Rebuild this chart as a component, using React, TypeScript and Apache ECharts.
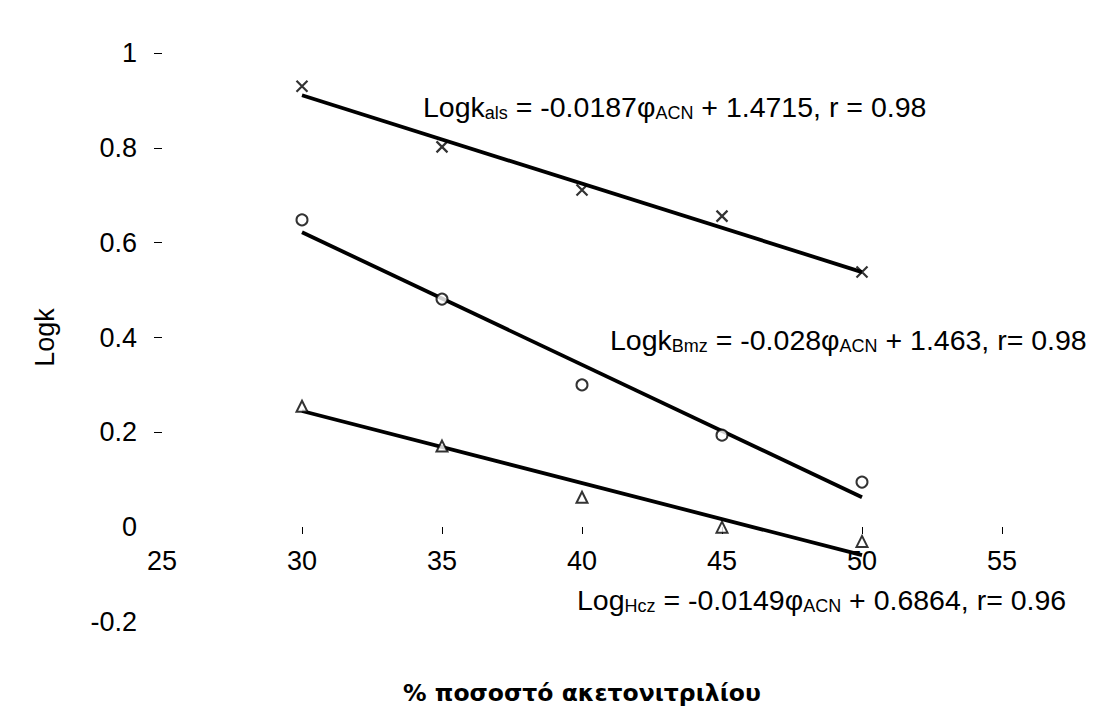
import React, { useEffect, useRef } from "react";
import * as echarts from "echarts";

const xValues = [30, 35, 40, 45, 50];
const alsValues = [0.93, 0.802, 0.711, 0.656, 0.538];
const bmzValues = [0.648, 0.481, 0.3, 0.194, 0.095];
const hczValues = [0.255, 0.171, 0.063, 0.0, -0.03];

const fitX = [30, 50];
const alsFit = [0.911, 0.538];
const bmzFit = [0.622, 0.063];
const hczFit = [0.245, -0.059];

const xTickValues = [30, 35, 40, 45, 50, 55];
const yTickValues = [0.2, 0.4, 0.6, 0.8, 1];

const FONT = "'Liberation Sans', Arial, sans-serif";

const pairs = (xs: number[], ys: number[]) => xs.map((x, i) => [x, ys[i]]);

const richStyles = {
  m: { fontSize: 28.5, fontFamily: FONT, color: "#000", lineHeight: 30 },
  s: { fontSize: 18, fontFamily: FONT, color: "#000", lineHeight: 8, verticalAlign: "bottom" },
};

export default function App() {
  const ref = useRef<HTMLDivElement>(null);
  useEffect(() => {
    const chart = echarts.init(ref.current!, null, { renderer: "svg" });
    const option: any = {
      animation: false,
      backgroundColor: "#fff",
      grid: { left: 162, right: 101, top: 53, bottom: 105, containLabel: false, outerBoundsMode: "none" },
      xAxis: {
        type: "value",
        min: 25,
        max: 55,
        interval: 5,
        offset: -95,
        axisLine: { show: false, onZero: false },
        axisTick: { show: true, length: 7, customValues: xTickValues, lineStyle: { color: "#000", width: 1 } },
        splitLine: { show: false },
        axisLabel: { fontSize: 27, fontFamily: FONT, color: "#000", margin: 20 },
        name: "% ποσοστό ακετονιτριλίου",
        nameLocation: "middle",
        nameGap: 154,
        nameTextStyle: { fontSize: 23.5, fontWeight: "bold", fontFamily: "'DejaVu Sans', Verdana, sans-serif", color: "#000" },
      },
      yAxis: {
        type: "value",
        min: -0.2,
        max: 1,
        interval: 0.2,
        axisLine: { show: false, onZero: false },
        axisTick: { show: true, length: 8, customValues: yTickValues, lineStyle: { color: "#000", width: 1 } },
        splitLine: { show: false },
        axisLabel: { fontSize: 27, fontFamily: FONT, color: "#000", margin: 25 },
        name: "Logk",
        nameLocation: "middle",
        nameGap: 104,
        nameTextStyle: { fontSize: 27, fontFamily: FONT, color: "#000" },
      },
      series: [
        {
          type: "line",
          data: pairs(fitX, alsFit),
          symbol: "none",
          lineStyle: { color: "#000", width: 3.8 },
          z: 2,
        },
        {
          type: "line",
          data: pairs(fitX, bmzFit),
          symbol: "none",
          lineStyle: { color: "#000", width: 3.8 },
          z: 2,
        },
        {
          type: "line",
          data: pairs(fitX, hczFit),
          symbol: "none",
          lineStyle: { color: "#000", width: 3.8 },
          z: 2,
        },
        {
          type: "scatter",
          data: pairs(xValues, alsValues),
          symbol: "path://M0,0L10,10M10,0L0,10",
          symbolSize: 11,
          itemStyle: { color: "none", borderColor: "#000", borderWidth: 2.2 },
          z: 3,
        },
        {
          type: "scatter",
          data: pairs(xValues, bmzValues),
          symbol: "circle",
          symbolSize: 11,
          itemStyle: { color: "#fff", borderColor: "#000", borderWidth: 2 },
          z: 3,
        },
        {
          type: "scatter",
          data: pairs(xValues, hczValues),
          symbol: "triangle",
          symbolSize: 11,
          itemStyle: { color: "#fff", borderColor: "#000", borderWidth: 2 },
          z: 3,
        },
      ],
      graphic: [
        {
          type: "text",
          left: 423,
          top: 92,
          style: {
            text: "{m|Logk}{s|als}{m| = -0.0187φ}{s|ACN}{m| + 1.4715, r = 0.98}",
            rich: richStyles,
          },
        },
        {
          type: "text",
          left: 610,
          top: 325,
          style: {
            text: "{m|Logk}{s|Bmz}{m| = -0.028φ}{s|ACN}{m| + 1.463, r= 0.98}",
            rich: richStyles,
          },
        },
        {
          type: "text",
          left: 577,
          top: 585,
          style: {
            text: "{m|Log}{s|Hcz}{m| = -0.0149φ}{s|ACN}{m| + 0.6864, r= 0.96}",
            rich: richStyles,
          },
        },
      ],
    };
    chart.setOption(option);
    return () => chart.dispose();
  }, []);
  return <div ref={ref} style={{ position: "fixed", left: 0, top: 0, width: 1103, height: 727 }} />;
}
